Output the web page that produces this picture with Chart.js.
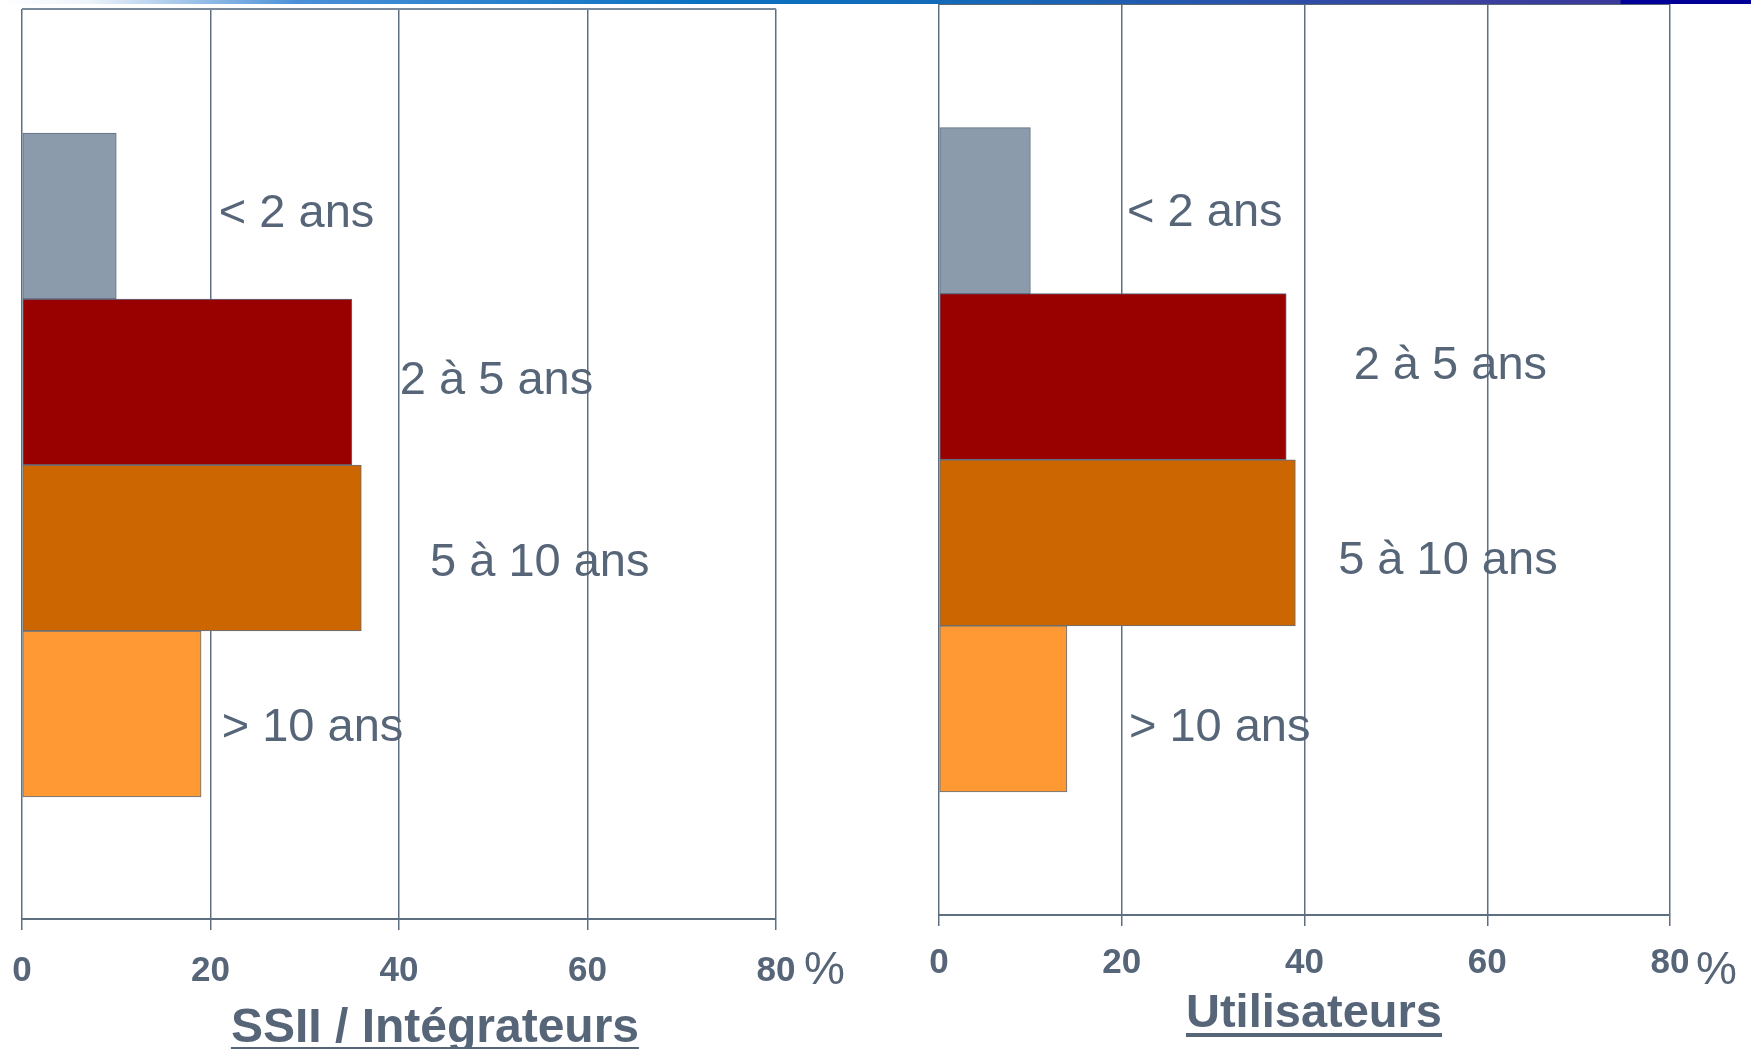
<!DOCTYPE html>
<html>
<head>
<meta charset="utf-8">
<script src="https://cdn.jsdelivr.net/npm/chart.js@4"></script>
<style>
body{margin:0;background:#fff;width:1751px;height:1049px;overflow:hidden;position:relative;font-family:'Liberation Sans',Arial,sans-serif}
#c1{position:absolute;left:0;top:0}
#c2{position:absolute;left:880px;top:0}
#band{position:absolute;left:0;top:0;width:1751px;height:4px;
  background:linear-gradient(to right,#ffffff 0%,#eef3fa 5%,#4a90d8 17%,#0a72c2 40%,#1668b6 57%,#3a409e 83%,#3a3a9a 92.5%,#000099 92.6%,#000099 100%)}
.title{position:absolute;transform:translateX(-50%);white-space:nowrap;font-weight:bold;color:#566578}
.title span{display:inline-block;border-bottom:4px solid #566578}
</style>
</head>
<body>
<canvas id="c1" width="880" height="1049"></canvas>
<canvas id="c2" width="871" height="1049"></canvas>
<div id="band"></div>
<div class="title" style="left:435px;top:1004px;font-size:48px;line-height:43px"><span>SSII / Intégrateurs</span></div>
<div class="title" style="left:1314px;top:988px;font-size:47px;line-height:45px"><span>Utilisateurs</span></div>
<script>
// Ancienneté, en % des répondants
const categories = ['< 2 ans', '2 à 5 ans', '5 à 10 ans', '> 10 ans'];
const ssiiValues = [10, 35, 36, 19];
const userValues = [10, 38, 39, 14];
const xTicks = [0, 20, 40, 60, 80];

const barColors = ['#8b9bab', '#990000', '#cc6600', '#ff9933'];
const ink = '#566578';
const lineCol = '#5f6f82';
const font = "'Liberation Sans', Arial, sans-serif";

// where each category name sits: [x in %, shift in bar heights]
const ssiiLabelAt = [[21.1, 0.064], [40.3, 0.075], [43.5, 0.169], [21.4, 0.163]];
const userLabelAt = [[20.8, 0.092], [45.6, 0.012], [43.9, 0.187], [21.0, 0.193]];

const decorations = {
  id: 'decorations',
  afterDraw(chart, args, opts) {
    const ctx = chart.ctx, x = chart.scales.x, y = chart.scales.y, area = chart.chartArea;
    ctx.save();
    // top frame line
    ctx.strokeStyle = opts.topColor;
    ctx.lineWidth = 2;
    ctx.beginPath();
    ctx.moveTo(area.left, area.top);
    ctx.lineTo(area.right, area.top);
    ctx.stroke();
    // category names
    ctx.fillStyle = ink;
    ctx.font = '47px ' + font;
    ctx.textAlign = 'left';
    ctx.textBaseline = 'alphabetic';
    categories.forEach((name, i) => {
      const p = opts.labelAt[i];
      ctx.fillText(name, x.getPixelForValue(p[0]) - 2, y.getPixelForValue(i + p[1]));
    });
    // % after the last tick
    ctx.font = '46px ' + font;
    ctx.fillText('%', x.getPixelForValue(xTicks[xTicks.length - 1]) + opts.pctGap, 984);
    ctx.restore();
  }
};

function makeChart(id, values, labelAt, lay) {
  return new Chart(document.getElementById(id), {
    type: 'bar',
    data: {
      labels: categories,
      datasets: [{
        data: values.map((v, i) => ({x: v, y: i})),
        backgroundColor: barColors,
        borderColor: lineCol,
        borderWidth: 1,
        borderSkipped: false,
        categoryPercentage: 1,
        barPercentage: 1
      }]
    },
    options: {
      indexAxis: 'y',
      responsive: false,
      animation: false,
      layout: {padding: lay.padding},
      plugins: {
        legend: {display: false},
        tooltip: {enabled: false},
        decorations: {labelAt: labelAt, topColor: lay.topColor, pctGap: lay.pctGap}
      },
      scales: {
        x: {
          type: 'linear',
          min: 0,
          max: 80,
          afterBuildTicks: s => { s.ticks = xTicks.map(v => ({value: v})); },
          afterFit: s => {
            s.height = lay.axisHeight;
            s.paddingLeft = 0;
            s.paddingRight = 0;
          },
          grid: {color: lineCol, lineWidth: 1.5, tickLength: 11, tickColor: lineCol, tickWidth: 1.5},
          border: {display: true, color: lineCol, width: 2},
          ticks: {
            color: ink,
            padding: lay.tickPad,
            maxRotation: 0,
            autoSkip: false,
            font: {family: font, size: 35, weight: 'bold'}
          }
        },
        y: {
          type: 'linear',
          reverse: true,
          display: false,
          offset: false,
          min: lay.yMin,
          max: lay.yMax,
          afterBuildTicks: s => { s.ticks = s.ticks.filter(t => Number.isInteger(t.value)); }
        }
      }
    },
    plugins: [decorations]
  });
}

makeChart('c1', ssiiValues, ssiiLabelAt, {
  padding: {left: 22, right: 104, top: 9, bottom: 0},
  axisHeight: 130, tickPad: 20, yMin: -1.247, yMax: 4.235, topColor: '#7a8a9c', pctGap: 28
});
makeChart('c2', userValues, userLabelAt, {
  padding: {left: 59, right: 81, top: 4, bottom: 0},
  axisHeight: 134, tickPad: 16, yMin: -1.244, yMax: 4.241, topColor: '#5a6a7c', pctGap: 26
});
</script>
</body>
</html>
